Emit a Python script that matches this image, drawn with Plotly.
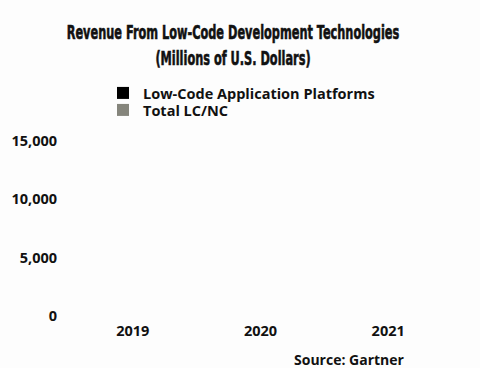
import plotly.graph_objects as go

years = ["2019", "2020", "2021"]
lcap_values = [0, 0, 0]
total_lcnc_values = [0, 0, 0]
ytick_vals = [0, 5000, 10000, 15000]
ytick_text = ["0", "5,000", "10,000", "15,000"]

legend_font = dict(family="Open Sans", size=14.5, color="#111111", weight="bold")

fig = go.Figure()
fig.add_trace(go.Bar(x=years, y=lcap_values, name="Low-Code Application Platforms",
                     marker=dict(color="#000000", line=dict(width=0)), legend="legend",
                     showlegend=True))
fig.add_trace(go.Bar(x=years, y=total_lcnc_values, name="Total LC/NC",
                     marker=dict(color="#85857c", line=dict(width=0)), legend="legend2",
                     showlegend=True))

fig.update_layout(
    width=480, height=368,
    showlegend=True,
    paper_bgcolor="#fdfdfd", plot_bgcolor="#fdfdfd",
    margin=dict(l=69, r=28, t=141, b=52, autoexpand=False),
    barmode="group",
    title=dict(text="<b>Revenue From Low-Code Development Technologies<br>(Millions of U.S. Dollars)</b>",
               x=233/480, xanchor="center", xref="container",
               y=1-39/368, yanchor="middle", yref="container",
               font=dict(family="DejaVu Sans Condensed", size=20, color="#111111")),
    legend=dict(x=103/480, y=1-93/368, xref="container", yref="container",
                xanchor="left", yanchor="middle", font=legend_font,
                bgcolor="rgba(0,0,0,0)", visible=True),
    legend2=dict(x=103/480, y=1-110/368, xref="container", yref="container",
                 xanchor="left", yanchor="middle", font=legend_font,
                 bgcolor="rgba(0,0,0,0)", visible=True),
    font=dict(family="Open Sans", color="#111111"),
    annotations=[dict(text="<b>Source: Gartner</b>", x=(407-69)/383, y=(316-359)/175,
                      xref="paper", yref="paper", showarrow=False,
                      xanchor="right", yanchor="middle",
                      font=dict(family="Open Sans", size=14, color="#111111"))],
)

fig.update_xaxes(showgrid=False, showline=False, zeroline=False,
                 tickfont=dict(family="Open Sans", size=14.5, color="#111111", weight="bold"),
                 ticks="outside", ticklen=2, tickcolor="rgba(0,0,0,0)", tickangle=0)
fig.update_yaxes(range=[0, 15000], tickvals=ytick_vals, ticktext=ytick_text,
                 showgrid=False, showline=False, zeroline=False,
                 tickfont=dict(family="Open Sans", size=14.5, color="#111111", weight="bold"),
                 ticks="outside", ticklen=8, tickcolor="rgba(0,0,0,0)")

post = """
document.body.style.margin='0';
var gd = document.getElementsByClassName('plotly-graph-div')[0];
function squeezeTitle(){
  var t = gd.querySelector('.gtitle');
  if(!t) return;
  var cx = parseFloat(t.getAttribute('x'));
  t.setAttribute('transform', 'translate(' + cx + ',0) scale(0.63,1) translate(' + (-cx) + ',0)');
  t.style.stroke = '#111111';
  t.style.strokeWidth = '0.6px';
}
squeezeTitle();
gd.on('plotly_afterplot', squeezeTitle);
"""

fig.write_html("out.html", post_script=post, config={"displayModeBar": False})
